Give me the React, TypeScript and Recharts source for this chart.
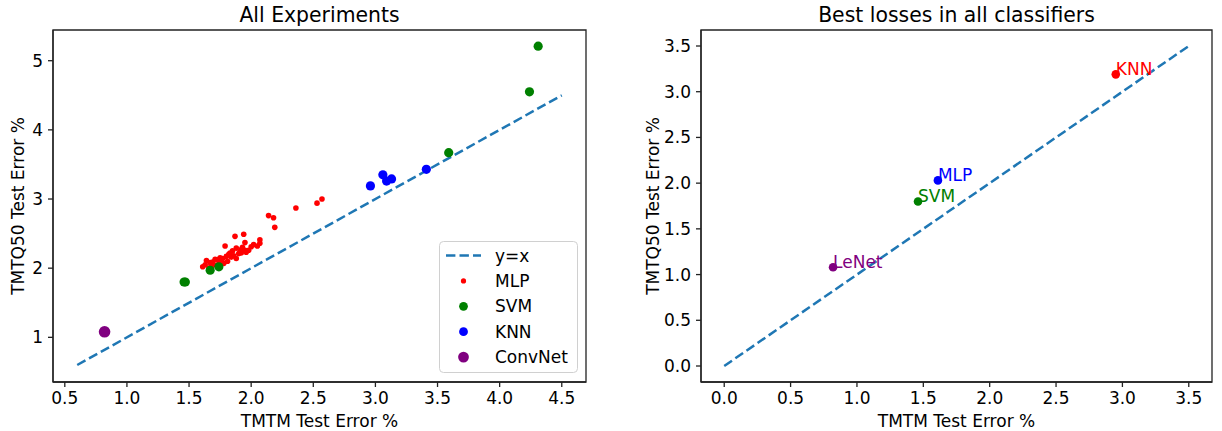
import React from 'react';
import { ScatterChart, Scatter, XAxis, YAxis, ReferenceArea, Legend } from 'recharts';

const FONT = '"DejaVu Sans", sans-serif';

// left panel: every experiment
const identityAll = [0.6, 4.5];
const mlpX = [1.61, 1.63, 1.64, 1.66, 1.67, 1.69, 1.7, 1.71, 1.73, 1.74, 1.75, 1.77, 1.78, 1.79, 1.8, 1.81, 1.82, 1.83, 1.84, 1.85, 1.86, 1.87, 1.88, 1.88, 1.9, 1.91, 1.92, 1.94, 1.95, 1.95, 1.96, 2.02, 2.05, 2.07, 2.07, 2.14, 2.18, 2.19, 2.36, 2.53, 2.57, 1.92, 1.93, 1.98, 2.0, 1.76, 1.68];
const mlpY = [2.02, 2.05, 2.11, 2.0, 2.08, 2.09, 2.05, 2.13, 2.12, 2.06, 2.15, 2.14, 2.07, 2.32, 2.17, 2.1, 2.2, 2.22, 2.16, 2.25, 2.18, 2.46, 2.29, 2.14, 2.21, 2.24, 2.27, 2.49, 2.26, 2.37, 2.23, 2.34, 2.32, 2.41, 2.36, 2.76, 2.73, 2.59, 2.87, 2.94, 3.0, 2.22, 2.3, 2.26, 2.31, 2.1, 2.03];
const svmX = [1.46, 1.47, 1.67, 1.74, 3.59, 4.24, 4.31];
const svmY = [1.8, 1.8, 1.97, 2.02, 3.67, 4.55, 5.21];
const knnX = [2.96, 3.06, 3.09, 3.13, 3.41];
const knnY = [3.19, 3.35, 3.26, 3.29, 3.43];
const convX = [0.82];
const convY = [1.08];
const leftXTicks = [0.5, 1.0, 1.5, 2.0, 2.5, 3.0, 3.5, 4.0, 4.5];
const leftYTicks = [1, 2, 3, 4, 5];

// right panel: best run per classifier
const identityBest = [0, 3.5];
const bestNames = ['KNN', 'MLP', 'SVM', 'LeNet'];
const bestX = [2.95, 1.61, 1.46, 0.82];
const bestY = [3.19, 2.03, 1.8, 1.08];
const bestTicks = [0, 0.5, 1.0, 1.5, 2.0, 2.5, 3.0, 3.5];

const colors: Record<string, string> = {
  MLP: '#ff0000',
  SVM: '#008000',
  KNN: '#0000ff',
  ConvNet: '#800080',
};
// the right plot uses its own colour order
const bestColors: Record<string, string> = {
  KNN: '#ff0000',
  MLP: '#0000ff',
  SVM: '#008000',
  LeNet: '#800080',
};
const LINE = '#1f77b4';
const DASH = '9.4 4.1';
const SPINE = '#222';

const zip = (xs: number[], ys: number[]) => xs.map((x, i) => ({ x, y: ys[i] }));

const tickStyle = { fontSize: 17, fill: '#000', fontFamily: FONT };
const axisLine = { stroke: SPINE, strokeWidth: 1.3 };
const tickLine = { stroke: SPINE, strokeWidth: 1.3 };

const dot = (r: number, fill: string) => (p: any) => <circle cx={p.cx} cy={p.cy} r={r} fill={fill} />;
const noDot = () => <g />;

const xLabel = (text: string) => (props: any) => {
  const vb = props.viewBox;
  return (
    <text x={vb.x + vb.width / 2} y={427} textAnchor="middle" fontSize={17} fontFamily={FONT} fill="#000">
      {text}
    </text>
  );
};

const yLabel = (text: string, cx: number) => (props: any) => {
  const vb = props.viewBox;
  const cy = vb.y + vb.height / 2;
  return (
    <text x={cx} y={cy} transform={`rotate(-90 ${cx} ${cy})`} textAnchor="middle" dominantBaseline="central" fontSize={17} fontFamily={FONT} fill="#000">
      {text}
    </text>
  );
};

const titleLabel = (text: string) => (props: any) => {
  const vb = props.viewBox;
  return (
    <text x={vb.x + vb.width / 2} y={22} textAnchor="middle" fontSize={20.4} fontFamily={FONT} fill="#000">
      {text}
    </text>
  );
};

const legendRows = [
  { name: 'y=x', kind: 'line' },
  { name: 'MLP', kind: 'dot', r: 2.6 },
  { name: 'SVM', kind: 'dot', r: 4.4 },
  { name: 'KNN', kind: 'dot', r: 4.4 },
  { name: 'ConvNet', kind: 'dot', r: 5.4 },
];

const LegendBox = () => (
  <svg width={139} height={132} style={{ display: 'block' }}>
    <rect x={0.5} y={0.5} width={138} height={131} rx={4} fill="rgba(255,255,255,0.8)" stroke="#d0d0d0" />
    {legendRows.map((row, i) => {
      const cy = 14.5 + i * 25.4;
      return (
        <g key={row.name}>
          {row.kind === 'line' ? (
            <line x1={7} x2={42} y1={cy} y2={cy} stroke={LINE} strokeWidth={2.5} strokeDasharray={DASH} />
          ) : (
            <circle cx={24.5} cy={cy} r={row.r} fill={colors[row.name]} />
          )}
          <text x={56} y={cy} dominantBaseline="central" fontSize={17} fontFamily={FONT} fill="#000">
            {row.name}
          </text>
        </g>
      );
    })}
  </svg>
);

const LeftPanel = () => {
  const xDom: [number, number] = [0.405, 4.695];
  const yDom: [number, number] = [0.354, 5.444];
  return (
    <ScatterChart width={620} height={431} margin={{ top: 30, right: 34, bottom: 0, left: 0 }}>
      <XAxis type="number" dataKey="x" domain={xDom} ticks={leftXTicks} allowDataOverflow height={49}
        tick={tickStyle} tickSize={5} tickMargin={5} axisLine={axisLine} tickLine={tickLine}
        tickFormatter={(v: number) => v.toFixed(1)} label={xLabel('TMTM Test Error %')} />
      <YAxis type="number" dataKey="y" domain={yDom} ticks={leftYTicks} allowDataOverflow width={53}
        tick={tickStyle} tickSize={5} tickMargin={5} axisLine={axisLine} tickLine={tickLine}
        label={yLabel('TMTQ50 Test Error %', 18)} />
      <ReferenceArea x1={xDom[0]} x2={xDom[1]} y1={yDom[0]} y2={yDom[1]} fill="none" stroke={SPINE} strokeWidth={1.3}
        fillOpacity={0} ifOverflow="visible" label={titleLabel('All Experiments')} />
      <Scatter data={zip(identityAll, identityAll)} line={{ stroke: LINE, strokeWidth: 2.5, strokeDasharray: DASH }} shape={noDot} isAnimationActive={false} />
      <Scatter name="MLP" data={zip(mlpX, mlpY)} shape={dot(2.8, colors.MLP)} isAnimationActive={false} />
      <Scatter name="SVM" data={zip(svmX, svmY)} shape={dot(4.6, colors.SVM)} isAnimationActive={false} />
      <Scatter name="KNN" data={zip(knnX, knnY)} shape={dot(4.6, colors.KNN)} isAnimationActive={false} />
      <Scatter name="ConvNet" data={zip(convX, convY)} shape={dot(5.8, colors.ConvNet)} isAnimationActive={false} />
      <Legend layout="vertical" align="center" verticalAlign="middle" content={() => <LegendBox />}
        wrapperStyle={{ position: 'absolute', left: 439, top: 241, width: 139, height: 132 }} />
    </ScatterChart>
  );
};

const BestLabel = (p: any) => {
  const name = p.payload.name;
  return (
    <g>
      <circle cx={p.cx} cy={p.cy} r={4.3} fill={bestColors[name]} />
      <text x={p.cx} y={p.cy + 1} fontSize={17} fontFamily={FONT} fill={bestColors[name]}>
        {name}
      </text>
    </g>
  );
};

const RightPanel = () => {
  const dom: [number, number] = [-0.175, 3.675];
  const best = bestNames.map((name, i) => ({ name, x: bestX[i], y: bestY[i] }));
  return (
    <ScatterChart width={602} height={431} margin={{ top: 30, right: 10, bottom: 0, left: 20 }}>
      <XAxis type="number" dataKey="x" domain={dom} ticks={bestTicks} allowDataOverflow height={49}
        tick={tickStyle} tickSize={5} tickMargin={5} axisLine={axisLine} tickLine={tickLine}
        tickFormatter={(v: number) => v.toFixed(1)} label={xLabel('TMTM Test Error %')} />
      <YAxis type="number" dataKey="y" domain={dom} ticks={bestTicks} allowDataOverflow width={61}
        tick={tickStyle} tickSize={5} tickMargin={5} axisLine={axisLine} tickLine={tickLine}
        tickFormatter={(v: number) => v.toFixed(1)} label={yLabel('TMTQ50 Test Error %', 33)} />
      <ReferenceArea x1={dom[0]} x2={dom[1]} y1={dom[0]} y2={dom[1]} fill="none" stroke={SPINE} strokeWidth={1.3}
        fillOpacity={0} ifOverflow="visible" label={titleLabel('Best losses in all classifiers')} />
      <Scatter data={zip(identityBest, identityBest)} line={{ stroke: LINE, strokeWidth: 2.5, strokeDasharray: DASH }} shape={noDot} isAnimationActive={false} />
      <Scatter data={best} shape={BestLabel} isAnimationActive={false} />
    </ScatterChart>
  );
};

export default function App() {
  return (
    <div style={{ position: 'fixed', left: 0, top: 0, width: 1222, height: 431, background: '#fff' }}>
      <div style={{ position: 'absolute', left: 0, top: 0 }}>
        <LeftPanel />
      </div>
      <div style={{ position: 'absolute', left: 620, top: 0 }}>
        <RightPanel />
      </div>
    </div>
  );
}
